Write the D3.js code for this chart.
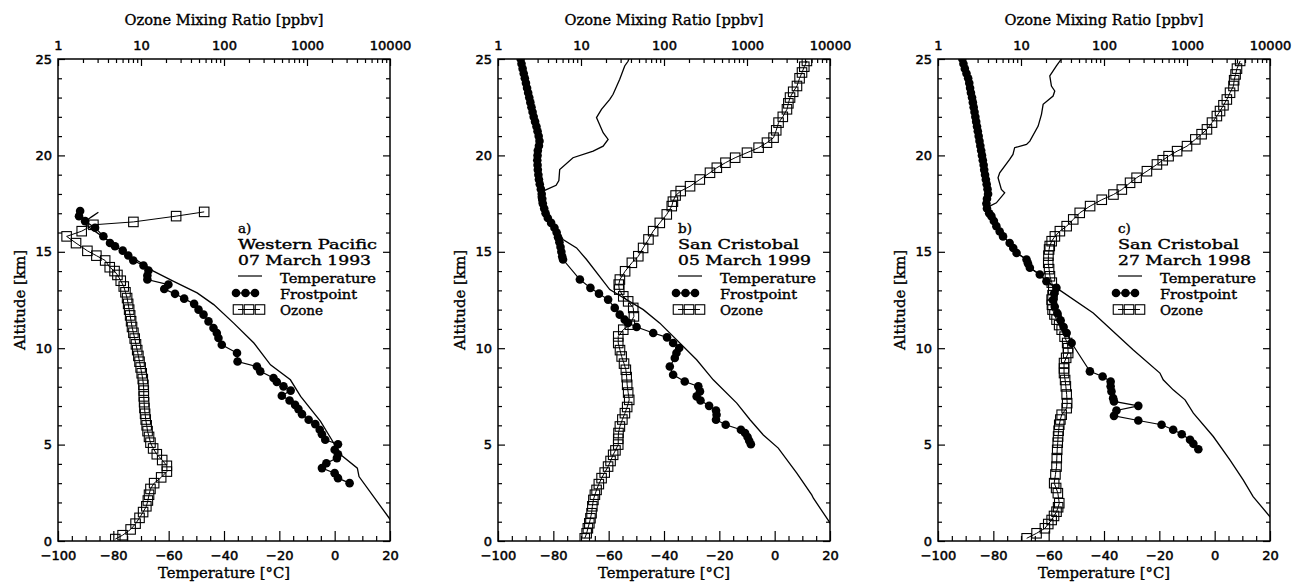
<!DOCTYPE html>
<html lang="en">

<head>
  <meta charset="utf-8">
  <title>Temperature, frostpoint and ozone soundings</title>
  <script src="https://cdn.jsdelivr.net/npm/d3@7"></script>
  <style>
    body { margin: 0; background: #fff; }
    .tick text { font-family: "DejaVu Sans", sans-serif; font-size: 13px; fill: #000; stroke: #000; stroke-width: 0.5px; }
    .tick line { stroke: #000; stroke-width: 1.2px; }
    .label { font-family: "DejaVu Serif", serif; font-size: 13.5px; fill: #000; stroke: #000; stroke-width: 0.4px; }
    .axis-title { font-family: "DejaVu Serif", serif; font-size: 15px; fill: #000; stroke: #000; stroke-width: 0.35px; }
  </style>
</head>

<body>
  <script>
    // [altitude km, value] pairs
    var tempA = [[17.05, -85.4], [16.8, -88.0], [16.5, -90.8], [16.25, -88.5], [15.8, -84.0], [15.3, -79.0],
      [14.86, -75.1], [14.3, -68.5], [14.0, -65.5], [13.47, -58.2], [12.87, -49.7], [12.26, -43.7],
      [11.3, -36.5], [10.27, -29.2], [9.14, -23.2], [8.36, -16.0], [7.5, -12.3], [6.2, -5.1],
      [5.07, -0.3], [4.47, 2.2], [3.78, 8.2], [3.34, 8.8], [1.13, 20.0], [0.5, 24.0]];
    var frostA = [[17.12, -92.0], [16.85, -92.4], [16.59, -90.2], [16.25, -86.6], [15.81, -83.6], [15.46, -81.2],
      [15.29, -79.4], [15.06, -76.6], [14.81, -74.6], [14.55, -72.8], [14.29, -69.1], [14.03, -67.3],
      [13.77, -67.7], [13.56, -67.7], [13.3, -60.1], [13.07, -61.6], [12.82, -57.7], [12.57, -54.4],
      [12.3, -50.8], [12.0, -49.2], [11.74, -47.4], [11.39, -45.6], [11.05, -43.8], [10.79, -42.6],
      [10.53, -42.0], [10.18, -40.8], [9.75, -35.3], [9.31, -35.1], [9.05, -28.1], [8.8, -26.9],
      [8.45, -22.1], [8.25, -20.9], [8.02, -18.5], [7.8, -15.9], [7.53, -19.1], [7.29, -16.3],
      [7.06, -14.3], [6.84, -13.1], [6.58, -11.8], [6.29, -9.4], [6.06, -7.0], [5.77, -5.4],
      [5.54, -4.6], [5.25, -3.4], [5.02, 1.2], [4.73, 0.0], [4.5, 1.2], [4.3, 0.8], [4.03, -3.0],
      [3.78, -4.6], [3.52, 0.0], [3.26, 1.2], [3.0, 5.4]];
    var ozoneA = [[0.1, 4.9], [0.3, 6.0], [0.6, 7.5], [0.9, 8.6], [1.2, 9.6], [1.5, 10.6], [1.8, 11.6],
      [2.1, 12.1], [2.4, 12.5], [2.7, 13.0], [3.0, 14.4], [3.3, 17.5], [3.6, 20.5], [3.9, 20.5],
      [4.2, 18.0], [4.5, 15.5], [4.8, 14.0], [5.1, 13.0], [5.4, 12.5], [5.7, 12.0], [6.0, 11.7],
      [6.3, 11.4], [6.6, 11.2], [6.9, 11.0], [7.2, 10.9], [7.5, 10.8], [7.8, 10.8], [8.1, 10.7],
      [8.4, 10.5], [8.7, 10.2], [9.0, 9.9], [9.3, 9.6], [9.6, 9.3], [9.9, 9.0], [10.2, 8.7],
      [10.5, 8.4], [10.8, 8.1], [11.1, 7.8], [11.4, 7.6], [11.7, 7.4], [12.0, 7.2], [12.3, 7.0],
      [12.6, 6.8], [12.9, 6.5], [13.2, 6.2], [13.5, 5.7], [13.8, 5.2], [14.0, 4.8], [14.2, 4.2],
      [14.55, 3.7], [14.8, 2.9], [15.05, 2.26], [15.45, 1.65], [15.8, 1.27], [16.07, 1.93],
      [16.4, 2.67], [16.55, 8.1], [16.85, 26.5], [17.07, 57.7]];

    var tempB = [[25.2, -52.2], [24.88, -53.0], [24.64, -54.2], [23.95, -56.0], [23.17, -58.4], [22.91, -59.6],
      [22.39, -62.6], [21.96, -64.4], [21.18, -62.0], [20.83, -60.2], [20.48, -62.0], [20.22, -65.6],
      [19.88, -72.9], [19.27, -77.7], [18.7, -78.0], [18.45, -79.0], [18.15, -83.7], [17.86, -85.5],
      [17.5, -85.0], [16.85, -82.5], [16.33, -79.5], [15.64, -76.5], [15.2, -71.6], [14.6, -68.0],
      [13.04, -59.6], [12.0, -47.5], [11.3, -41.5], [9.4, -28.2], [8.36, -22.2], [7.15, -13.7],
      [6.29, -8.9], [5.5, -4.1], [4.82, 1.3], [3.52, 8.0], [2.39, 13.4], [2.22, 14.0], [1.0, 19.7],
      [0.0, 25.0]];
    var frostB = [[25.0, -91.8], [24.75, -91.5], [24.5, -91.1], [24.25, -90.7], [24.0, -90.3], [23.75, -89.9],
      [23.5, -89.5], [23.25, -89.1], [23.0, -88.7], [22.75, -88.3], [22.5, -87.9], [22.25, -87.5],
      [22.0, -87.1], [21.75, -86.6], [21.5, -86.1], [21.25, -85.7], [21.0, -85.3], [20.75, -85.0],
      [20.5, -85.2], [20.25, -85.6], [20.0, -85.7], [19.75, -85.8], [19.5, -85.7], [19.25, -85.6],
      [19.0, -85.4], [18.75, -85.2], [18.5, -84.9], [18.25, -84.5], [18.0, -84.2], [17.75, -84.0],
      [17.5, -83.8], [17.25, -83.3], [17.0, -82.8], [16.75, -82.0], [16.5, -80.8], [16.25, -79.6],
      [16.0, -78.8], [15.75, -78.3], [15.5, -77.8], [15.25, -77.4], [15.0, -77.1], [14.75, -76.8],
      [14.6, -76.5], [13.56, -70.4], [13.13, -66.6], [12.83, -63.5], [12.52, -60.2], [12.09, -57.8],
      [11.74, -56.0], [11.48, -54.2], [11.31, -53.0], [11.1, -49.9], [10.79, -43.9], [10.56, -38.9],
      [10.27, -36.7], [10.01, -34.5], [9.75, -35.5], [9.49, -36.1], [9.05, -37.9], [8.62, -36.7],
      [8.27, -32.5], [8.02, -27.6], [7.76, -27.0], [7.5, -28.2], [7.29, -26.8], [7.01, -23.7],
      [6.77, -21.2], [6.55, -21.0], [6.29, -21.2], [6.03, -17.7], [5.77, -12.2], [5.6, -10.7],
      [5.39, -9.8], [5.2, -9.2], [5.02, -8.6]];
    var ozoneB = [[24.9, 5270], [24.6, 4900], [24.3, 4600], [24.0, 4300], [23.6, 4000], [23.3, 3600],
      [23.0, 3300], [22.7, 3150], [22.39, 3030], [22.0, 2700], [21.7, 2400], [21.3, 2250],
      [20.92, 2090], [20.66, 1740], [20.4, 1380], [20.14, 1000], [19.88, 720], [19.62, 550],
      [19.36, 433], [19.1, 358], [18.75, 270], [18.4, 206], [18.15, 159], [17.92, 138], [17.6, 128],
      [17.37, 124], [16.94, 108], [16.5, 89], [16.07, 74], [15.64, 65], [15.2, 56], [14.77, 49],
      [14.43, 41], [13.99, 34], [13.56, 29.4], [13.3, 28.5], [13.04, 28.9], [12.69, 32.3],
      [12.43, 37], [12.09, 42.6], [11.65, 43.4], [11.22, 38.8], [10.96, 32.3], [10.61, 28.1],
      [10.27, 28.1], [9.9, 29.5], [9.57, 30.9], [9.2, 33], [8.88, 34.7], [8.5, 35.5], [8.1, 36],
      [7.7, 37], [7.32, 38.1], [6.95, 36], [6.63, 33.8], [6.3, 31.5], [5.94, 29.4], [5.6, 28.3],
      [5.3, 28.1], [5.0, 28.1], [4.7, 26], [4.47, 24.4], [4.15, 22.7], [3.86, 21.2], [3.55, 19.3],
      [3.26, 17.7], [2.95, 16.4], [2.65, 15.4], [2.4, 14.7], [2.13, 14.1], [1.8, 13.7], [1.44, 13.4],
      [1.18, 13.0], [0.92, 12.6], [0.66, 12.1], [0.4, 11.7], [0.14, 11.1]];

    var tempC = [[25.2, -54.6], [25.0, -55.4], [24.64, -57.2], [24.12, -59.6], [23.6, -59.0], [23.34, -57.8],
      [23.08, -58.4], [22.65, -62.0], [22.13, -62.6], [21.52, -63.8], [20.74, -66.8], [20.57, -68.0],
      [20.4, -72.3], [20.05, -72.9], [19.79, -74.1], [19.1, -77.7], [18.84, -78.3], [18.23, -77.1],
      [18.06, -75.9], [17.54, -78.9], [17.37, -81.3], [16.85, -80.7], [16.33, -78.9], [15.8, -76.5],
      [15.46, -74.1], [14.94, -71.6], [14.6, -68.0], [14.17, -66.8], [13.82, -63.2], [13.47, -60.8],
      [13.13, -57.2], [11.83, -43.9], [9.92, -29.5], [8.71, -19.8], [8.36, -18.6], [7.84, -15.0],
      [7.32, -10.7], [6.63, -7.7], [5.42, -0.5], [4.21, 5.5], [3.17, 10.3], [2.3, 13.9], [1.26, 20.0],
      [0.5, 24.0]];
    var frostC = [[25.0, -91.2], [24.75, -90.8], [24.5, -90.3], [24.25, -89.7], [24.0, -89.1], [23.75, -88.7],
      [23.5, -88.4], [23.25, -88.1], [23.0, -87.7], [22.75, -87.4], [22.5, -87.1], [22.25, -86.8],
      [22.0, -86.5], [21.75, -86.2], [21.5, -85.9], [21.25, -85.6], [21.0, -85.3], [20.75, -85.0],
      [20.5, -84.7], [20.25, -84.4], [20.0, -84.1], [19.75, -83.8], [19.5, -83.5], [19.25, -83.3],
      [19.0, -83.0], [18.75, -82.7], [18.5, -82.4], [18.25, -82.1], [18.0, -81.9], [17.75, -82.3],
      [17.5, -82.5], [17.25, -82.3], [17.0, -81.5], [16.85, -80.7], [16.6, -79.8], [16.33, -78.9],
      [16.05, -77.7], [15.8, -76.5], [15.46, -74.1], [15.2, -72.8], [14.94, -71.6], [14.6, -68.0],
      [14.4, -67.5], [14.17, -66.8], [13.82, -63.2], [13.47, -60.8], [13.13, -57.2], [12.85, -58.0],
      [12.5, -58.5], [12.15, -57.8], [11.8, -56.8], [11.45, -55.7], [11.1, -54.6], [10.79, -53.5],
      [10.27, -51.7], [8.8, -45.1], [8.53, -40.5], [8.27, -37.6], [8.02, -37.6], [7.76, -37.3],
      [7.41, -36.7], [7.24, -36.4], [7.01, -27.6], [6.77, -35.5], [6.49, -36.4], [6.25, -27.6],
      [6.03, -19.2], [5.77, -15.0], [5.54, -11.9], [5.25, -8.9], [5.04, -7.7], [4.76, -5.9]];
    var ozoneC = [[24.9, 4370], [24.5, 4000], [24.2, 3850], [23.9, 3700], [23.6, 3630], [23.25, 3300],
      [22.9, 3020], [22.6, 2750], [22.3, 2500], [22.04, 2290], [21.7, 2000], [21.35, 1740],
      [21.1, 1500], [20.83, 1260], [20.48, 1000], [20.22, 760], [19.96, 600], [19.75, 510],
      [19.53, 434], [19.18, 329], [18.84, 247], [18.58, 206], [18.23, 164], [17.97, 130], [17.7, 94],
      [17.37, 68], [17.02, 51], [16.68, 42.6], [16.33, 35.5], [16.07, 29.4], [15.8, 25.6],
      [15.55, 23.4], [15.3, 22.2], [15.12, 21.8], [14.8, 21.4], [14.43, 21.3], [14.1, 21.8],
      [13.73, 22.3], [13.4, 23.5], [13.04, 24.5], [12.75, 24], [12.52, 23.4], [12.25, 23.6],
      [12.0, 24], [11.75, 25.3], [11.48, 26.8], [11.2, 28.8], [10.96, 30.9], [10.6, 33.5],
      [10.27, 36], [10.0, 36.8], [9.75, 37], [9.5, 35], [9.23, 33], [8.95, 33], [8.71, 33],
      [8.35, 34], [8.02, 34.7], [7.6, 35.5], [7.15, 36], [6.89, 35.5], [6.55, 30.9], [6.3, 29.8],
      [6.03, 28.9], [5.72, 28.4], [5.42, 28], [5.1, 27.7], [4.73, 27.3], [4.3, 27], [3.86, 26.8],
      [3.45, 26], [3.0, 25.1], [2.75, 26.5], [2.48, 27.8], [1.96, 28.9], [1.75, 28], [1.52, 26.8],
      [1.3, 25], [1.09, 23.4], [0.88, 21.3], [0.66, 19.4], [0.4, 15.4], [0.14, 11.7]];

    var panelLetters = ["a)", "b)", "c)"];
    var siteNames = ["Western Pacific", "San Cristobal", "San Cristobal"];
    var launchDates = ["07 March 1993", "05 March 1999", "27 March 1998"];
    var legendLabels = ["Temperature", "Frostpoint", "Ozone"];

    var tempTicks = [-100, -80, -60, -40, -20, 0, 20];
    var ozoneTicks = [1, 10, 100, 1000, 10000];
    var altTicks = [0, 5, 10, 15, 20, 25];

    var w = 1293;
    var h = 582;
    var margin = { top: 59, left: 58 };
    var width = 332;
    var height = 482;
    var panelStep = 440;

    var svg = d3.select("body").append("svg")
                .attr("width", w)
                .attr("height", h);

    var x = d3.scaleLinear().domain([-100, 20]).range([0, width]);
    var xo = d3.scaleLog().domain([1, 10000]).range([0, width]);
    var y = d3.scaleLinear().domain([0, 25]).range([height, 0]);

    var tempMinor = d3.range(-100, 21, 5).filter(function (d) { return d % 20 !== 0; });
    var altMinor = d3.range(0, 26, 1).filter(function (d) { return d % 5 !== 0; });
    var ozoneMinor = [];
    ozoneTicks.slice(0, -1).forEach(function (dec) {
      for (var k = 2; k <= 9; k++) ozoneMinor.push(dec * k);
    });

    var fmt = d3.format("d");

    function drawAxes(g, idx) {
      function addAxis(axis, transform) {
        var a = g.append("g")
                 .attr("transform", transform || null)
                 .call(axis.tickSizeOuter(0));
        a.select(".domain").remove();
        a.attr("font-family", null).attr("font-size", null);
        return a;
      }
      var bottom = "translate(0," + height + ")";
      addAxis(d3.axisBottom(x).tickValues(tempTicks).tickSize(-10).tickPadding(10).tickFormat(fmt), bottom);
      addAxis(d3.axisBottom(x).tickValues(tempMinor).tickSize(-5).tickFormat(""), bottom);
      addAxis(d3.axisTop(xo).tickValues(ozoneTicks).tickSize(-7).tickPadding(9).tickFormat(fmt));
      addAxis(d3.axisTop(xo).tickValues(ozoneMinor).tickSize(-4).tickFormat(""));
      addAxis(d3.axisLeft(y).tickValues(altTicks).tickSize(-7).tickPadding(6).tickFormat(fmt));
      addAxis(d3.axisLeft(y).tickValues(altMinor).tickSize(-4).tickFormat(""));
      var right = "translate(" + width + ",0)";
      addAxis(d3.axisRight(y).tickValues(altTicks).tickSize(-7).tickFormat(""), right);
      addAxis(d3.axisRight(y).tickValues(altMinor).tickSize(-4).tickFormat(""), right);

      g.append("rect")
       .attr("width", width)
       .attr("height", height)
       .attr("fill", "none")
       .attr("stroke", "#000")
       .attr("stroke-width", 1.5);

      g.append("text")
       .classed("axis-title", true)
       .attr("x", width / 2)
       .attr("y", -34)
       .attr("text-anchor", "middle")
       .attr("textLength", 199)
       .attr("lengthAdjust", "spacingAndGlyphs")
       .text("Ozone Mixing Ratio [ppbv]");
      g.append("text")
       .classed("axis-title", true)
       .attr("x", width / 2)
       .attr("y", 519)
       .attr("text-anchor", "middle")
       .attr("textLength", 132)
       .attr("lengthAdjust", "spacingAndGlyphs")
       .text("Temperature [\u00B0C]");
      g.append("text")
       .classed("axis-title", true)
       .attr("transform", "translate(-33," + height / 2 + ") rotate(-90)")
       .attr("text-anchor", "middle")
       .attr("textLength", 100)
       .attr("lengthAdjust", "spacingAndGlyphs")
       .text("Altitude [km]");
    }

    function drawLegend(g, idx) {
      var lx = 180;
      var tx = 222;
      g.append("text").classed("label", true).attr("x", lx).attr("y", 173.5).text(panelLetters[idx]);
      g.append("text").classed("label", true).attr("x", lx).attr("y", 189.5)
       .attr("textLength", idx === 0 ? 139 : 121).attr("lengthAdjust", "spacingAndGlyphs")
       .text(siteNames[idx]);
      g.append("text").classed("label", true).attr("x", lx).attr("y", 205.5)
       .attr("textLength", 133).attr("lengthAdjust", "spacingAndGlyphs")
       .text(launchDates[idx]);

      var rows = [223.5, 239.5, 256];
      var widths = [96, 77, 43];
      legendLabels.forEach(function (lab, i) {
        g.append("text").classed("label", true)
         .attr("x", tx).attr("y", rows[i])
         .attr("textLength", widths[i]).attr("lengthAdjust", "spacingAndGlyphs")
         .text(lab);
      });

      g.append("line")
       .attr("x1", lx).attr("x2", lx + 24)
       .attr("y1", 217).attr("y2", 217)
       .attr("stroke", "#000").attr("stroke-width", 1.2);

      g.append("line")
       .attr("x1", lx - 2).attr("x2", lx + 17)
       .attr("y1", 234).attr("y2", 234)
       .attr("stroke", "#000").attr("stroke-width", 1.2);
      g.selectAll(".leg-dot")
       .data([lx - 2, lx + 7.5, lx + 17])
       .enter()
         .append("circle")
         .attr("cx", function (d) { return d; })
         .attr("cy", 234)
         .attr("r", 4.3)
         .attr("fill", "#000");

      g.append("line")
       .attr("x1", lx).attr("x2", lx + 22)
       .attr("y1", 250.5).attr("y2", 250.5)
       .attr("stroke", "#000").attr("stroke-width", 1);
      g.selectAll(".leg-sq")
       .data([lx, lx + 11, lx + 22])
       .enter()
         .append("rect")
         .attr("x", function (d) { return d - 4.75; })
         .attr("y", 250.5 - 4.75)
         .attr("width", 9.5)
         .attr("height", 9.5)
         .attr("fill", "none")
         .attr("stroke", "#000")
         .attr("stroke-width", 1.1);
    }

    function plot(g, p, idx) {
      var clipId = "clip" + idx;
      g.append("clipPath")
       .attr("id", clipId)
       .append("rect")
       .attr("width", width)
       .attr("height", height);

      var marks = g.append("g").attr("clip-path", "url(#" + clipId + ")");

      var tempLine = d3.line()
                       .x(function (d) { return x(d[1]); })
                       .y(function (d) { return y(d[0]); });
      var ozoneLine = d3.line()
                        .x(function (d) { return xo(d[1]); })
                        .y(function (d) { return y(d[0]); });

      marks.append("path")
           .attr("d", tempLine(p.temp))
           .attr("fill", "none")
           .attr("stroke", "#000")
           .attr("stroke-width", 1.3);

      marks.append("path")
           .attr("d", ozoneLine(p.ozone))
           .attr("fill", "none")
           .attr("stroke", "#000")
           .attr("stroke-width", 1);
      marks.selectAll(".ozone")
           .data(p.ozone)
           .enter()
             .append("rect")
             .classed("ozone", true)
             .attr("x", function (d) { return xo(d[1]) - 4.75; })
             .attr("y", function (d) { return y(d[0]) - 4.75; })
             .attr("width", 9.5)
             .attr("height", 9.5)
             .attr("fill", "none")
             .attr("stroke", "#000")
             .attr("stroke-width", 1.1);

      marks.append("path")
           .attr("d", tempLine(p.frost))
           .attr("fill", "none")
           .attr("stroke", "#000")
           .attr("stroke-width", 1.2);
      marks.selectAll(".frost")
           .data(p.frost)
           .enter()
             .append("circle")
             .classed("frost", true)
             .attr("cx", function (d) { return x(d[1]); })
             .attr("cy", function (d) { return y(d[0]); })
             .attr("r", 4.3)
             .attr("fill", "#000");

      drawAxes(g, idx);
      drawLegend(g, idx);
    }

    var panels = [
      { temp: tempA, frost: frostA, ozone: ozoneA },
      { temp: tempB, frost: frostB, ozone: ozoneB },
      { temp: tempC, frost: frostC, ozone: ozoneC }
    ];

    panels.forEach(function (p, idx) {
      var g = svg.append("g")
                 .attr("transform", "translate(" + (margin.left + idx * panelStep) + "," + margin.top + ")");
      plot(g, p, idx);
    });
  </script>
</body>

</html>
